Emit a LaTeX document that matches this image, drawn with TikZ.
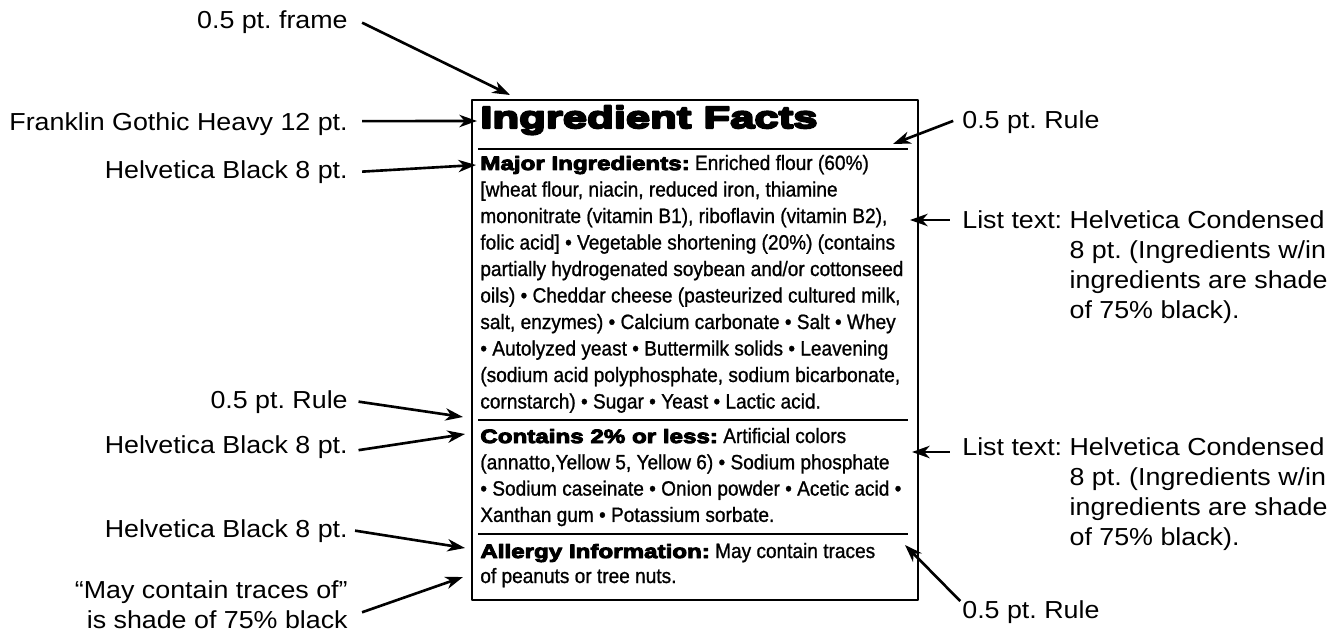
\documentclass[tikz,border=0pt]{standalone}
\usepackage{fontspec}
\usetikzlibrary{arrows.meta}
\frenchspacing
\newfontfamily\notefont[FakeStretch=1.09]{Liberation Sans}
\newfontfamily\listfont[FakeStretch=0.92,FakeBold=1]{Liberation Sans}
\newfontfamily\blackfamily[FakeStretch=1.25,BoldFeatures={FakeBold=5}]{Liberation Sans}
\newfontfamily\titlefamily[FakeStretch=1.42,BoldFeatures={FakeBold=7}]{Liberation Sans}
\newcommand\blackhead{\blackfamily\bfseries}
\begin{document}
\begin{tikzpicture}[x=0.02cm,y=-0.02cm,line join=round]
	\tikzset{
		note/.style={font=\notefont\fontsize{14}{17.1}\selectfont,inner sep=0pt},
		list/.style={font=\listfont\fontsize{11.8}{13}\selectfont,inner sep=0pt,anchor=base west},
		pointer/.style={-{Stealth[length=10pt,width=7pt,inset=3pt]},line width=1.5pt},
		rule/.style={line width=1.1pt}}
	\useasboundingbox (0,0) rectangle (1342,635);
	%%Khung va cac duong ke
	\draw[rule] (472,100) rectangle (918,600);
	\draw[rule] (478,149)--(908,149) (478,420)--(908,420) (478,534)--(908,534);
	\node[anchor=base west,inner sep=0pt,font=\titlefamily\bfseries\fontsize{17.5}{19}\selectfont] (title) at (480,128) {Ingredient Facts};
	%%Noi dung
	\foreach \t [count=\i] in {
		{{\blackhead\fontsize{11}{13}\selectfont Major Ingredients:} Enriched flour (60\%)},
		{[wheat flour, niacin, reduced iron, thiamine},
		{mononitrate (vitamin B1), riboflavin (vitamin B2),},
		{folic acid] • Vegetable shortening (20\%) (contains},
		{partially hydrogenated soybean and/or cottonseed},
		{oils) • Cheddar cheese (pasteurized cultured milk,},
		{salt, enzymes) • Calcium carbonate • Salt • Whey},
		{• Autolyzed yeast • Buttermilk solids • Leavening},
		{(sodium acid polyphosphate, sodium bicarbonate,},
		{cornstarch) • Sugar • Yeast • Lactic acid.}}
		\node[list] (major\i) at (480,{170+(\i-1)*26.5}) {\t};
	\foreach \t [count=\i] in {
		{{\blackhead\fontsize{11}{13}\selectfont Contains 2\% or less:} Artificial colors},
		{(annatto,Yellow 5, Yellow 6) • Sodium phosphate},
		{• Sodium caseinate • Onion powder • Acetic acid •},
		{Xanthan gum • Potassium sorbate.}}
		\node[list] (minor\i) at (480,{443+(\i-1)*26.3}) {\t};
	\foreach \t [count=\i] in {
		{{\blackhead\fontsize{11}{13}\selectfont Allergy Information:} May contain traces},
		{of peanuts or tree nuts.}}
		\node[list] (allergy\i) at (480,{558+(\i-1)*25}) {\t};
	%%Chu thich ben trai
	\node[note,anchor=base east] (frame) at (348,29) {0.5 pt. frame};
	\node[note,anchor=base east] (franklin) at (348,131) {Franklin Gothic Heavy 12 pt.};
	\node[note,anchor=base east] (blackA) at (348,178) {Helvetica Black 8 pt.};
	\node[note,anchor=base east] (ruleA) at (348,408) {0.5 pt. Rule};
	\node[note,anchor=base east] (blackB) at (348,453) {Helvetica Black 8 pt.};
	\node[note,anchor=base east] (blackC) at (348,537) {Helvetica Black 8 pt.};
	\node[note,anchor=base east] (shade) at (348,598) {\begin{tabular}[t]{@{}r@{}}“May contain traces of”\\ is shade of 75\% black\end{tabular}};
	%%Chu thich ben phai
	\node[note,anchor=base west] (ruleB) at (962,129) {0.5 pt. Rule};
	\node[note,anchor=base west] (listA) at (962,228) {\begin{tabular}[t]{@{}l@{\ }l@{}}List text: & Helvetica Condensed\\ & 8 pt. (Ingredients w/in\\ & ingredients are shade\\ & of 75\% black).\end{tabular}};
	\node[note,anchor=base west] (listB) at (962,455) {\begin{tabular}[t]{@{}l@{\ }l@{}}List text: & Helvetica Condensed\\ & 8 pt. (Ingredients w/in\\ & ingredients are shade\\ & of 75\% black).\end{tabular}};
	\node[note,anchor=base west] (ruleC) at (962,618) {0.5 pt. Rule};
	%%Cac mui ten
	\coordinate (tFrame) at (510,95);
	\coordinate (tTitle) at (477,121);
	\coordinate (tMajor) at (476,165);
	\coordinate (tRuleA) at (463,417);
	\coordinate (tMinor) at (465,434);
	\coordinate (tAllergy) at (465,548);
	\coordinate (tShade) at (463,577);
	\coordinate (tRuleB) at (893,144);
	\coordinate (tListA) at (910,220);
	\coordinate (tListB) at (912,452);
	\coordinate (tRuleC) at (905,545);
	\draw[pointer] ([xshift=8pt]frame.east)--(tFrame);
	\draw[pointer] ([xshift=8pt,yshift=2pt]franklin.east)--(tTitle);
	\draw[pointer] ([xshift=8pt]blackA.east)--(tMajor);
	\draw[pointer] ([xshift=6pt]ruleA.east)--(tRuleA);
	\draw[pointer] ([xshift=6pt,yshift=-2pt]blackB.east)--(tMinor);
	\draw[pointer] ([xshift=4pt]blackC.east)--(tAllergy);
	\draw[pointer] ([xshift=8pt,yshift=-3pt]shade.east)--(tShade);
	\draw[pointer] ([xshift=-5pt,yshift=1pt]ruleB.west)--(tRuleB);
	\draw[pointer] ([xshift=-7pt]listA.west|-0,220)--(tListA);
	\draw[pointer] ([xshift=-7pt]listB.west|-0,452)--(tListB);
	\draw[pointer] ([xshift=-1pt,yshift=6pt]ruleC.west)--(tRuleC);
\end{tikzpicture}
\end{document}
